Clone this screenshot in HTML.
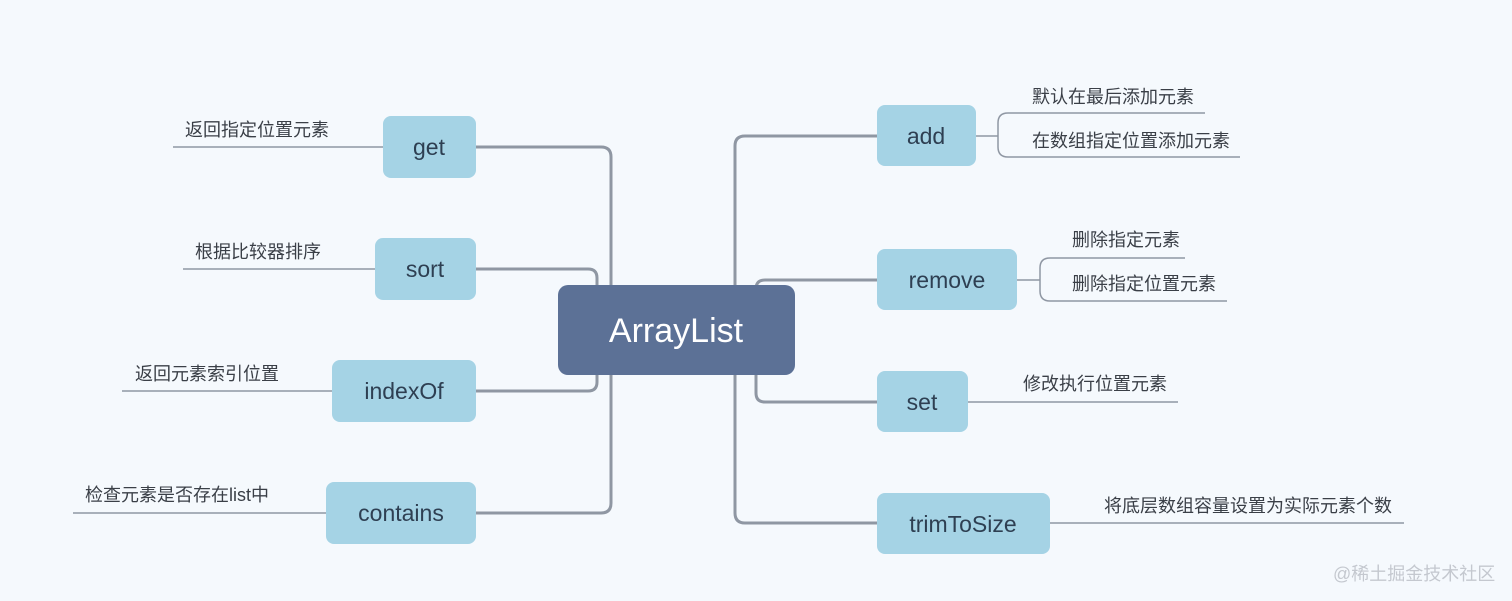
<!DOCTYPE html>
<html><head><meta charset="utf-8"><style>
html,body{margin:0;padding:0;background:#f5f9fd;}
svg{display:block;font-family:"Liberation Sans","Noto Sans CJK SC",sans-serif;}
.n{fill:#a5d3e5;}
.t{font-size:23px;fill:#2e3f52;text-anchor:middle;}
.l{font-size:18px;fill:#3a3f47;}
.th{stroke:#8f97a3;stroke-width:3;fill:none;}
.tn{stroke:#8f97a3;stroke-width:1.5;fill:none;}
</style></head><body>
<svg width="1512" height="601" viewBox="0 0 1512 601">
<rect width="1512" height="601" fill="#f5f9fd"/>
<path class="th" d="M476 147 H601 Q611 147 611 157 V300"/>
<path class="th" d="M476 513 H601 Q611 513 611 503 V360"/>
<path class="th" d="M476 269 H588 Q597 269 597 278 V300"/>
<path class="th" d="M476 391 H588 Q597 391 597 382 V360"/>
<path class="th" d="M877 136 H745 Q735 136 735 146 V300"/>
<path class="th" d="M877 523 H745 Q735 523 735 513 V360"/>
<path class="th" d="M877 280 H765 Q756 280 756 289 V300"/>
<path class="th" d="M877 402 H765 Q756 402 756 393 V360"/>
<rect x="558" y="285" width="237" height="90" rx="10" fill="#5c7196"/>
<text x="676" y="342" font-size="34" fill="#fff" text-anchor="middle">ArrayList</text>
<rect class="n" x="383" y="116" width="93" height="62" rx="8"/><text class="t" x="429" y="155">get</text>
<rect class="n" x="375" y="238" width="101" height="62" rx="8"/><text class="t" x="425" y="277">sort</text>
<rect class="n" x="332" y="360" width="144" height="62" rx="8"/><text class="t" x="404" y="399">indexOf</text>
<rect class="n" x="326" y="482" width="150" height="62" rx="8"/><text class="t" x="401" y="521">contains</text>
<rect class="n" x="877" y="105" width="99" height="61" rx="8"/><text class="t" x="926" y="144">add</text>
<rect class="n" x="877" y="249" width="140" height="61" rx="8"/><text class="t" x="947" y="288">remove</text>
<rect class="n" x="877" y="371" width="91" height="61" rx="8"/><text class="t" x="922" y="410">set</text>
<rect class="n" x="877" y="493" width="173" height="61" rx="8"/><text class="t" x="963" y="532">trimToSize</text>
<path class="tn" d="M173 147 H383"/><text class="l" x="185" y="136">返回指定位置元素</text>
<path class="tn" d="M183 269 H375"/><text class="l" x="195" y="258">根据比较器排序</text>
<path class="tn" d="M122 391 H332"/><text class="l" x="135" y="380">返回元素索引位置</text>
<path class="tn" d="M73 513 H326"/><text class="l" x="85" y="501">检查元素是否存在list中</text>
<path class="tn" d="M976 136 H998 M1205 113 H1008 Q998 113 998 123 V147 Q998 157 1008 157 H1240"/>
<text class="l" x="1032" y="103">默认在最后添加元素</text>
<text class="l" x="1032" y="147">在数组指定位置添加元素</text>
<path class="tn" d="M1017 280 H1040 M1185 258 H1050 Q1040 258 1040 268 V291 Q1040 301 1050 301 H1227"/>
<text class="l" x="1072" y="246">删除指定元素</text>
<text class="l" x="1072" y="290">删除指定位置元素</text>
<path class="tn" d="M968 402 H1178"/><text class="l" x="1023" y="390">修改执行位置元素</text>
<path class="tn" d="M1050 523 H1404"/><text class="l" x="1104" y="512">将底层数组容量设置为实际元素个数</text>
<text x="1333" y="580" font-size="18" fill="#c4c8cf">@稀土掘金技术社区</text>
</svg>
</body></html>
